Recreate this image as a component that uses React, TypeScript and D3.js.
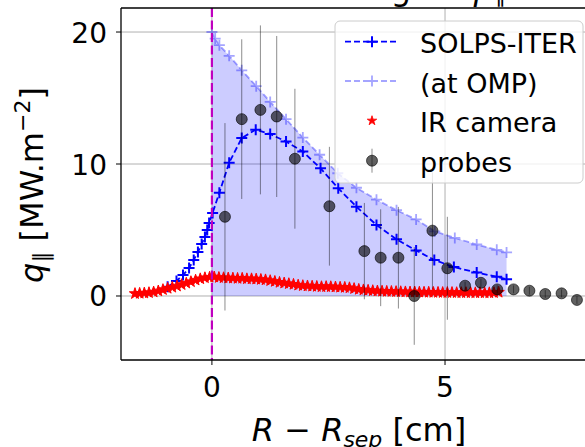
import React from "react";
import * as d3 from "d3";

// SOLPS-ITER (target) profile
const solpsX = [-0.95, -0.76, -0.62, -0.49, -0.39, -0.30, -0.22, -0.15, -0.10, -0.06, 0.015, 0.16, 0.37, 0.64, 0.94, 1.25, 1.59, 1.95, 2.33, 2.71, 3.10, 3.53, 3.96, 4.38, 4.77, 5.19, 5.68, 6.11, 6.32];
const solpsY = [0.7, 1.14, 1.59, 2.12, 2.73, 3.33, 3.94, 4.47, 5.0, 5.53, 6.29, 7.83, 10.1, 11.97, 12.6, 12.27, 11.7, 10.94, 9.67, 8.16, 6.76, 5.38, 4.29, 3.45, 2.73, 2.19, 1.78, 1.46, 1.26];

// SOLPS-ITER at OMP
const ompX = [0, 0.07, 0.16, 0.37, 0.64, 0.95, 1.25, 1.59, 1.95, 2.31, 2.70, 3.10, 3.53, 3.96, 4.38, 4.78, 5.21, 5.68, 6.11, 6.32];
const ompY = [20.0, 19.5, 19.0, 18.2, 17.1, 15.9, 14.7, 13.4, 12.0, 10.7, 9.3, 8.2, 7.3, 6.5, 5.8, 4.9, 4.4, 3.9, 3.5, 3.3];

// IR camera
const irX = [-1.65, -1.55, -1.45, -1.35, -1.25, -1.15, -1.05, -0.95, -0.85, -0.75, -0.65, -0.55, -0.45, -0.35, -0.25, -0.15, -0.05, 0.05, 0.15, 0.25, 0.35, 0.45, 0.55, 0.65, 0.75, 0.85, 0.95, 1.05, 1.15, 1.25, 1.35, 1.45, 1.55, 1.65, 1.75, 1.85, 1.95, 2.05, 2.15, 2.25, 2.35, 2.45, 2.55, 2.65, 2.75, 2.85, 2.95, 3.05, 3.15, 3.25, 3.35, 3.45, 3.55, 3.65, 3.75, 3.85, 3.95, 4.05, 4.15, 4.25, 4.35, 4.45, 4.55, 4.65, 4.75, 4.85, 4.95, 5.05, 5.15, 5.25, 5.35, 5.45, 5.55, 5.65, 5.75, 5.85, 5.95, 6.05, 6.15];
const irY = [0.18, 0.20, 0.22, 0.25, 0.30, 0.38, 0.48, 0.58, 0.66, 0.75, 0.86, 0.97, 1.08, 1.20, 1.30, 1.38, 1.42, 1.44, 1.40, 1.38, 1.36, 1.35, 1.33, 1.34, 1.30, 1.30, 1.28, 1.25, 1.22, 1.16, 1.10, 1.03, 0.98, 0.93, 0.88, 0.82, 0.78, 0.76, 0.74, 0.72, 0.70, 0.71, 0.70, 0.68, 0.66, 0.65, 0.62, 0.56, 0.50, 0.46, 0.43, 0.40, 0.38, 0.36, 0.35, 0.34, 0.33, 0.32, 0.31, 0.30, 0.30, 0.29, 0.28, 0.28, 0.27, 0.27, 0.26, 0.26, 0.26, 0.25, 0.25, 0.25, 0.25, 0.24, 0.25, 0.24, 0.24, 0.25, 0.28];

// Probes
const probeX = [0.28, 0.64, 1.04, 1.39, 1.78, 2.52, 3.27, 3.62, 4.0, 4.34, 4.73, 5.05, 5.43, 5.77, 6.12, 6.47, 6.81, 7.15, 7.5, 7.83];
const probeY = [6.0, 13.4, 14.1, 13.6, 10.4, 6.8, 3.4, 2.9, 2.9, 0.0, 4.95, 2.1, 0.78, 1.0, 0.5, 0.5, 0.4, 0.15, 0.2, -0.3];
const probeErr = [7.1, 6.05, 6.4, 6.1, 5.3, 4.5, 3.65, 3.67, 3.85, 3.7, 4.4, 3.9, 0.3, 0.3, 0.3, 0.3, 0.3, 0.3, 0.3, 0.3];

const xTicks = [0, 5];
const yTicks = [0, 10, 20];
const legendLabels = ["SOLPS-ITER", "(at OMP)", "IR camera", "probes"];

const FONT = "DejaVu Sans";

export default function App() {
  const W = 585, H = 447;
  const left = 121, right = 597, top = 8, bottom = 360;
  const x = d3.scaleLinear().domain([-1.95, 8.26]).range([left, right]);
  const y = d3.scaleLinear().domain([-4.85, 21.82]).range([bottom, top]);

  const solps = solpsX.map((v, i) => [v, solpsY[i]] as [number, number]);
  const omp = ompX.map((v, i) => [v, ompY[i]] as [number, number]);
  const line = d3.line<[number, number]>().x(d => x(d[0])).y(d => y(d[1]));
  const area = d3.area<[number, number]>().x(d => x(d[0])).y0(() => y(0)).y1(d => y(d[1]));
  const star = d3.symbol().type(d3.symbolStar).size(40)() as string;
  const starLg = d3.symbol().type(d3.symbolStar).size(28)() as string;
  const plus = (cx: number, cy: number, r = 5.5) => `M${cx - r},${cy}H${cx + r}M${cx},${cy - r}V${cy + r}`;

  const lgX0 = 345, lgX1 = 398, lgXc = 372;
  const lgRows = [41.7, 81, 120.7, 160.7];

  return (
    <svg width={W} height={H} style={{ position: "absolute", left: 0, top: 0, background: "white" }} fontFamily={FONT}>
      <defs>
        <clipPath id="plotclip">
          <rect x={left} y={top} width={right - left} height={bottom - top} />
        </clipPath>
      </defs>
      <rect x={0} y={0} width={W} height={H} fill="white" />
      {/* title (mostly cut off, as in the reference) */}
      <text x={411} y={0} fontSize={32} textAnchor="end" fill="black">Matching</text>
      <text x={426} y={0} fontSize={32} fill="black">of</text>
      <text x={462} y={0} fontSize={32} fontStyle="italic" fill="black">q</text>
      <text x={495} y={2} fontSize={22} fill="black">∥</text>

      {/* grid */}
      <g stroke="#b0b0b0" strokeWidth={1}>
        {xTicks.map(t => <line key={"gx" + t} x1={x(t)} x2={x(t)} y1={top} y2={bottom} />)}
        {yTicks.map(t => <line key={"gy" + t} x1={left} x2={right} y1={y(t)} y2={y(t)} />)}
      </g>

      <g clipPath="url(#plotclip)">
        {/* fill between OMP and 0 */}
        <path d={area(omp) as string} fill="#0000ff" fillOpacity={0.2} stroke="none" />
        {/* OMP line */}
        <g opacity={0.35}>
          <path d={line(omp) as string} fill="none" stroke="#0000ff" strokeWidth={1.8} strokeDasharray="6,3" />
          {omp.map((d, i) => <path key={"om" + i} d={plus(x(d[0]), y(d[1]))} stroke="#0000ff" strokeWidth={1.8} />)}
        </g>
        {/* SOLPS line */}
        <path d={line(solps) as string} fill="none" stroke="#0000ff" strokeWidth={1.8} strokeDasharray="6,3" />
        {solps.map((d, i) => <path key={"sm" + i} d={plus(x(d[0]), y(d[1]))} stroke="#0000ff" strokeWidth={2} />)}
        {/* IR camera */}
        {irX.map((v, i) => (
          <path key={"ir" + i} d={star} transform={`translate(${x(v)},${y(irY[i])})`} fill="#ff0000" stroke="#ff0000" strokeWidth={1} />
        ))}
        {/* probes */}
        {probeX.map((v, i) => (
          <g key={"pb" + i}>
            <line x1={x(v)} x2={x(v)} y1={y(probeY[i] + probeErr[i])} y2={y(probeY[i] - probeErr[i])} stroke="black" strokeOpacity={0.45} strokeWidth={1} />
            <circle cx={x(v)} cy={y(probeY[i])} r={5.5} fill="black" fillOpacity={0.62} stroke="black" strokeOpacity={0.6} strokeWidth={1} />
          </g>
        ))}
        {/* separatrix */}
        <line x1={x(0)} x2={x(0)} y1={top} y2={bottom} stroke="#bf00bf" strokeWidth={2.2} strokeDasharray="9,3.5" />
      </g>

      {/* spines */}
      <g stroke="black" strokeWidth={1.3} fill="none">
        <line x1={left} x2={left} y1={top} y2={bottom} />
        <line x1={left} x2={right} y1={bottom} y2={bottom} />
        <line x1={left} x2={right} y1={top} y2={top} />
        <line x1={right} x2={right} y1={top} y2={bottom} />
      </g>

      {/* ticks */}
      <g stroke="black" strokeWidth={1}>
        {xTicks.map(t => <line key={"tx" + t} x1={x(t)} x2={x(t)} y1={bottom} y2={bottom + 5} />)}
        {yTicks.map(t => <line key={"ty" + t} x1={left - 5} x2={left} y1={y(t)} y2={y(t)} />)}
      </g>
      {xTicks.map(t => (
        <text key={"lx" + t} x={x(t)} y={397} fontSize={28} textAnchor="middle" fill="black">{t}</text>
      ))}
      {yTicks.map(t => (
        <text key={"ly" + t} x={107} y={y(t) + 10.5} fontSize={28} textAnchor="end" fill="black">{t}</text>
      ))}

      {/* axis labels */}
      <text x={359} y={441} fontSize={32} textAnchor="middle" fill="black">
        <tspan fontStyle="italic">R</tspan>
        <tspan> − </tspan>
        <tspan fontStyle="italic">R</tspan>
        <tspan fontStyle="italic" fontSize={22} dy={6}>sep</tspan>
        <tspan dy={-6}> [cm]</tspan>
      </text>
      <text transform="translate(43,185) rotate(-90)" fontSize={32} textAnchor="middle" fill="black">
        <tspan fontStyle="italic">q</tspan>
        <tspan fontSize={22} dy={6}>∥</tspan>
        <tspan dy={-6}> [MW.m</tspan>
        <tspan fontSize={22} dy={-13}>−2</tspan>
        <tspan dy={13}>]</tspan>
      </text>

      {/* legend */}
      <rect x={335} y={21} width={248} height={162} rx={5} fill="white" fillOpacity={0.8} stroke="#cccccc" strokeWidth={1} />
      <line x1={lgX0} x2={lgX1} y1={lgRows[0]} y2={lgRows[0]} stroke="#0000ff" strokeWidth={1.8} strokeDasharray="6,3" />
      <path d={plus(lgXc, lgRows[0])} stroke="#0000ff" strokeWidth={2} />
      <g opacity={0.35}>
        <line x1={lgX0} x2={lgX1} y1={lgRows[1]} y2={lgRows[1]} stroke="#0000ff" strokeWidth={1.8} strokeDasharray="6,3" />
        <path d={plus(lgXc, lgRows[1])} stroke="#0000ff" strokeWidth={1.8} />
      </g>
      <path d={starLg} transform={`translate(${lgXc},${lgRows[2]})`} fill="#ff0000" stroke="#ff0000" strokeWidth={0.8} />
      <line x1={lgXc} x2={lgXc} y1={lgRows[3] - 12} y2={lgRows[3] + 12} stroke="black" strokeOpacity={0.45} strokeWidth={1} />
      <circle cx={lgXc} cy={lgRows[3]} r={5.5} fill="black" fillOpacity={0.62} stroke="black" strokeOpacity={0.6} strokeWidth={1} />
      {legendLabels.map((l, i) => (
        <text key={"lg" + i} x={420} y={lgRows[i] + 11.5} fontSize={27} fill="black">{l}</text>
      ))}
    </svg>
  );
}
